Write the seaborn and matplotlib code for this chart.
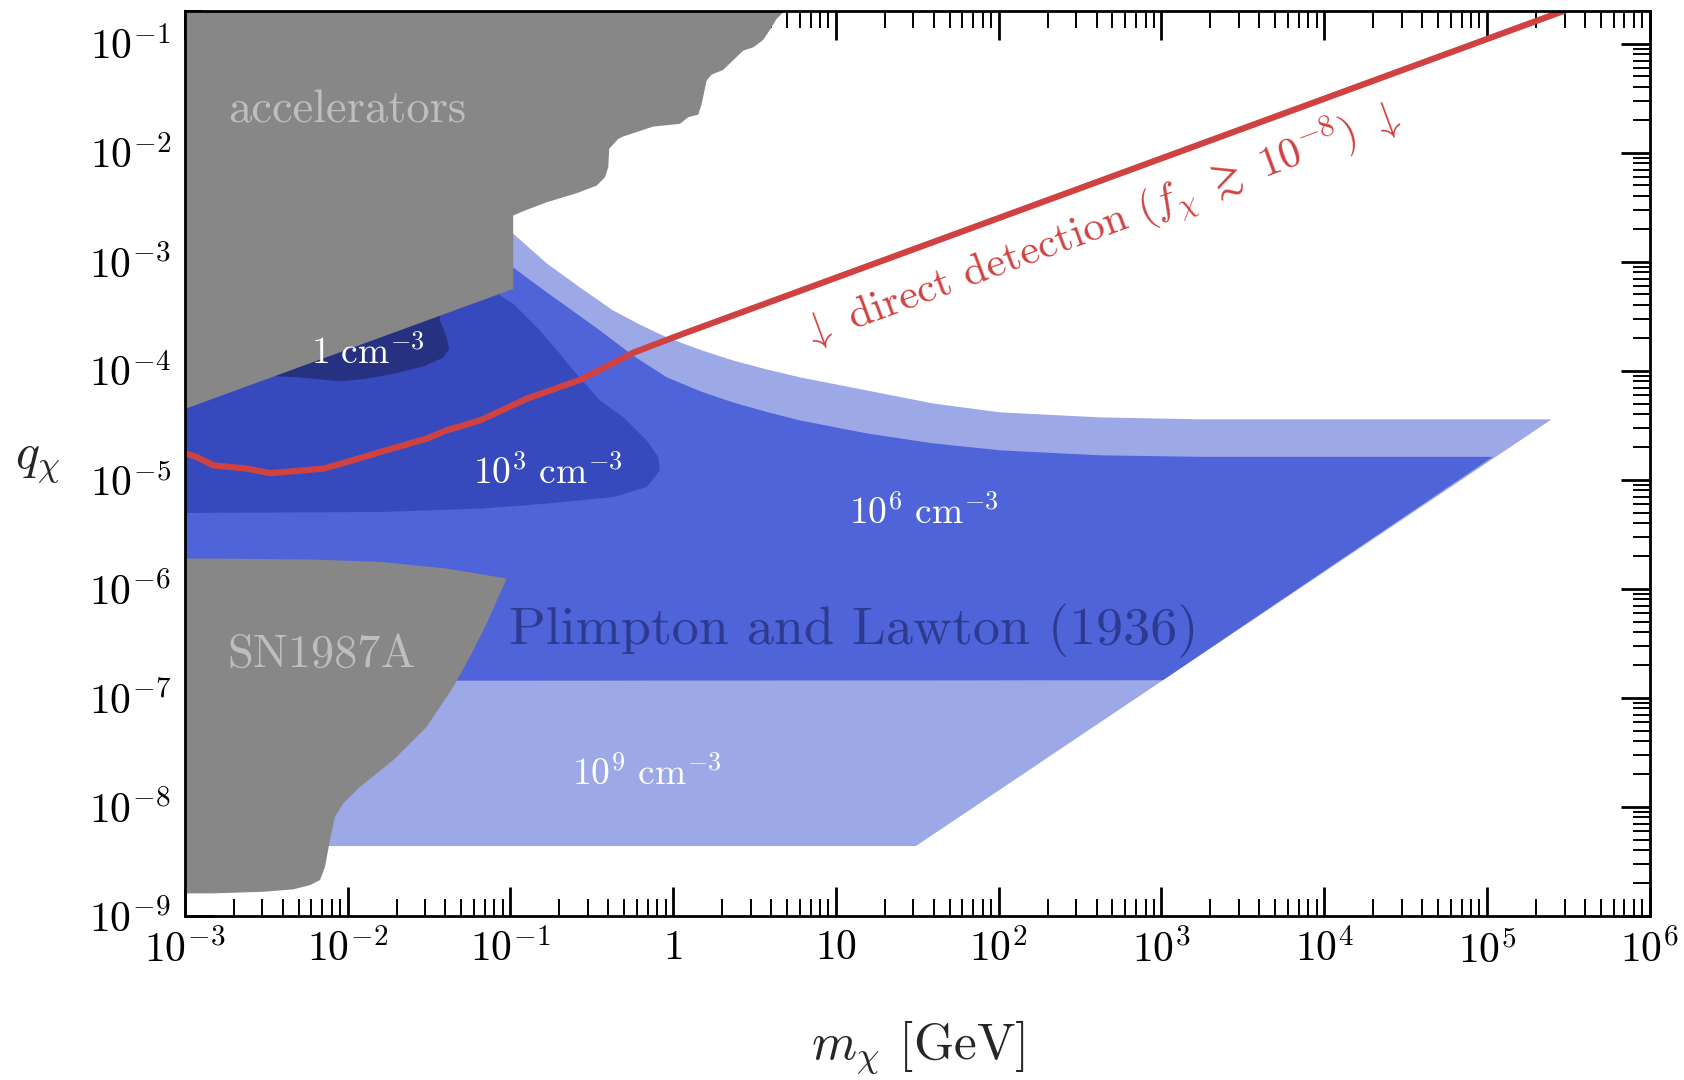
import numpy as np
import pandas as pd
import matplotlib
matplotlib.use("Agg")
import matplotlib.pyplot as plt
from matplotlib import ticker
import seaborn as sns

# ---- axis ranges -------------------------------------------------------
m_lim = (1e-3, 1e6)
q_lim = (1e-9, 0.2)

# ---- excluded regions, boundaries given as (log10 m [GeV], log10 q) ---------
accel_logm = [-3.05, -3.05, -0.982, -0.982, -0.920, -0.776, -0.592, -0.469, -0.418,
              -0.398, -0.392, -0.337, -0.306, -0.122, 0.042, 0.093, 0.155, 0.176,
              0.206, 0.237, 0.308, 0.431, 0.493, 0.554, 0.595, 0.636, 0.677, 0.718]
accel_logq = [-0.5, -4.379, -3.250, -2.577, -2.537, -2.455, -2.372, -2.302, -2.225,
              -2.134, -1.965, -1.874, -1.852, -1.761, -1.736, -1.675, -1.651, -1.553,
              -1.339, -1.284, -1.241, -1.064, -1.034, -0.966, -0.874, -0.774, -0.713, -0.606]

sn_logm = [-3.05, -2.824, -2.210, -1.800, -1.391, -1.022, -1.063, -1.145, -1.248,
           -1.350, -1.514, -1.719, -1.923, -2.026, -2.077, -2.108, -2.138, -2.169,
           -2.230, -2.333, -2.517, -2.824, -3.05]
sn_logq = [-5.723, -5.723, -5.732, -5.754, -5.815, -5.906, -6.044, -6.319, -6.625,
           -6.900, -7.267, -7.572, -7.817, -7.969, -8.092, -8.305, -8.550, -8.672,
           -8.718, -8.757, -8.779, -8.794, -8.794]

# ---- Plimpton & Lawton density contours --------------------------------------
n9_logm = [-0.983, -0.775, -0.572, -0.369, -0.200, -0.038, 0.170, 0.368, 0.580, 0.780,
           1.190, 1.596, 2.008, 2.622, 3.236, 5.398, 1.492, -3.05, -3.05]
n9_logq = [-2.742, -3.017, -3.236, -3.447, -3.580, -3.695, -3.810, -3.906, -3.990, -4.061,
           -4.181, -4.300, -4.382, -4.428, -4.446, -4.446, -8.360, -8.360, -2.742]

n6_logm = [-0.983, -0.775, -0.603, -0.449, -0.247, -0.038, 0.170, 0.368, 0.580, 0.780,
           1.190, 1.596, 2.008, 2.622, 3.236, 5.036, 3.009, -3.05, -3.05]
n6_logq = [-3.053, -3.282, -3.466, -3.631, -3.860, -4.061, -4.190, -4.291, -4.380, -4.456,
           -4.575, -4.666, -4.730, -4.776, -4.790, -4.790, -6.839, -6.845, -3.053]

n3_logm = [-3.05, -1.800, -1.186, -0.776, -0.367, -0.162, -0.080, -0.091, -0.162,
           -0.306, -0.449, -0.613, -0.695, -0.818, -0.982, -1.063, -1.063, -3.05]
n3_logq = [-5.305, -5.296, -5.265, -5.219, -5.159, -5.067, -4.914, -4.792, -4.639,
           -4.425, -4.272, -3.997, -3.844, -3.631, -3.386, -3.310, -3.0, -3.0]

n0_logm = [-2.45, -2.322, -2.210, -2.046, -1.882, -1.698, -1.534, -1.412, -1.375,
           -1.391, -1.432, -1.432, -2.45]
n0_logq = [-4.05, -4.059, -4.073, -4.098, -4.073, -4.022, -3.961, -3.881, -3.798,
           -3.692, -3.539, -3.3, -3.8]

# ---- direct detection limit -------------------------------------------------
dd_logm = [-3.05, -3.0, -2.926, -2.824, -2.619, -2.476, -2.312, -2.149, -2.005,
           -1.800, -1.514, -1.391, -1.186, -0.899, -0.572, -0.244, 0.042, 5.60]
dd_logq = [-4.72, -4.755, -4.792, -4.868, -4.898, -4.939, -4.920, -4.898, -4.838,
           -4.746, -4.623, -4.547, -4.456, -4.257, -4.085, -3.835, -3.672, -0.630]

# ---- tick positions and labels ---------------------------------------------
x_major = [1e-3, 1e-2, 1e-1, 1, 10, 1e2, 1e3, 1e4, 1e5, 1e6]
x_labels = [r"$10^{-3}$", r"$10^{-2}$", r"$10^{-1}$", r"$1$", r"$10$",
            r"$10^{2}$", r"$10^{3}$", r"$10^{4}$", r"$10^{5}$", r"$10^{6}$"]
y_major = [1e-9, 1e-8, 1e-7, 1e-6, 1e-5, 1e-4, 1e-3, 1e-2, 1e-1]
y_labels = [r"$10^{-9}$", r"$10^{-8}$", r"$10^{-7}$", r"$10^{-6}$", r"$10^{-5}$",
            r"$10^{-4}$", r"$10^{-3}$", r"$10^{-2}$", r"$10^{-1}$"]

# ---- colours ----------------------------------------------------------------
c_gray = "#878787"
c_n9 = "#9DA8E6"
c_n6 = "#4F64D9"
c_n3 = "#364ABE"
c_n0 = "#263182"
c_red = "#D04242"
c_gray_text = "#BEBEBE"
c_navy_text = "#2C3A8F"

sns.set_theme(style="ticks")
plt.rcParams["font.family"] = ["cmr10", "DejaVu Serif"]
plt.rcParams["mathtext.fontset"] = "cm"
plt.rcParams["axes.formatter.use_mathtext"] = True
plt.rcParams["axes.unicode_minus"] = False

fig = plt.figure(figsize=(16.84, 10.8), dpi=100)
ax = fig.add_axes([0.1097, 0.152, 0.8699, 0.838])
ax.set_xscale("log")
ax.set_yscale("log")


def poly(lm, lq):
    return 10 ** np.asarray(lm), 10 ** np.asarray(lq)


# density contours, lightest first
for lm, lq, col in [(n9_logm, n9_logq, c_n9), (n6_logm, n6_logq, c_n6),
                    (n3_logm, n3_logq, c_n3), (n0_logm, n0_logq, c_n0)]:
    ax.fill(*poly(lm, lq), color=col, lw=0, zorder=1)

# exclusion regions
ax.fill(*poly(accel_logm, accel_logq), color=c_gray, lw=0, zorder=2)
ax.fill(*poly(sn_logm, sn_logq), color=c_gray, lw=0, zorder=2)

# direct detection line
dd = pd.DataFrame({"m": 10 ** np.asarray(dd_logm), "q": 10 ** np.asarray(dd_logq)})
sns.lineplot(data=dd, x="m", y="q", sort=False, color=c_red, lw=4.5, ax=ax, zorder=3)

ax.set_xlim(*m_lim)
ax.set_ylim(*q_lim)

# ticks
ax.xaxis.set_major_locator(ticker.FixedLocator(x_major))
ax.xaxis.set_major_formatter(ticker.FixedFormatter(x_labels))
ax.yaxis.set_major_locator(ticker.FixedLocator(y_major))
ax.yaxis.set_major_formatter(ticker.FixedFormatter(y_labels))
ax.xaxis.set_minor_locator(ticker.LogLocator(base=10, subs=np.arange(2, 10), numticks=100))
ax.yaxis.set_minor_locator(ticker.LogLocator(base=10, subs=np.arange(2, 10), numticks=100))
ax.xaxis.set_minor_formatter(ticker.NullFormatter())
ax.yaxis.set_minor_formatter(ticker.NullFormatter())
ax.tick_params(which="both", direction="in", top=True, right=True, colors="black")
ax.tick_params(which="major", length=21, width=2, labelsize=30, pad=10)
ax.tick_params(which="minor", length=12.5, width=1.4)
for sp in ax.spines.values():
    sp.set_linewidth(2)
    sp.set_color("black")
    sp.set_zorder(5)

ax.set_xlabel(r"$m_\chi$ [GeV]", fontsize=37, va="center")
ax.xaxis.set_label_coords(0.5005, -0.146)
ax.set_ylabel(r"$q_\chi$", fontsize=36, rotation=0, va="center", ha="center")
ax.yaxis.set_label_coords(-0.1004, 0.5015)

# region labels
ax.text(10 ** -2.736, 10 ** -1.615, "accelerators", color=c_gray_text, fontsize=33.5,
        ha="left", va="center", zorder=4)
ax.text(10 ** -2.736, 10 ** -6.605, "SN1987A", color=c_gray_text, fontsize=33.5,
        ha="left", va="center", zorder=4)
ax.text(10 ** 1.110, 10 ** -6.385, "Plimpton and Lawton (1936)", color=c_navy_text,
        fontsize=39, ha="center", va="center", zorder=4)
ax.text(10 ** -1.878, 10 ** -3.835, r"$1\ \mathrm{cm}^{-3}$", color="white", fontsize=27,
        ha="center", va="center", zorder=4)
ax.text(10 ** -0.770, 10 ** -4.938, r"$10^3\ \mathrm{cm}^{-3}$", color="white", fontsize=27,
        ha="center", va="center", zorder=4)
ax.text(10 ** 1.539, 10 ** -5.302, r"$10^6\ \mathrm{cm}^{-3}$", color="white", fontsize=27,
        ha="center", va="center", zorder=4)
ax.text(10 ** -0.163, 10 ** -7.694, r"$10^9\ \mathrm{cm}^{-3}$", color="white", fontsize=27,
        ha="center", va="center", zorder=4)
ax.text(10 ** 2.628, 10 ** -2.673,
        r"$\downarrow$ direct detection ($f_\chi\ \gtrsim\ 10^{-8}$) $\downarrow$",
        color=c_red, fontsize=31, rotation=20.3, rotation_mode="anchor",
        ha="center", va="center", zorder=4)

fig.savefig("out.png", dpi=100)
